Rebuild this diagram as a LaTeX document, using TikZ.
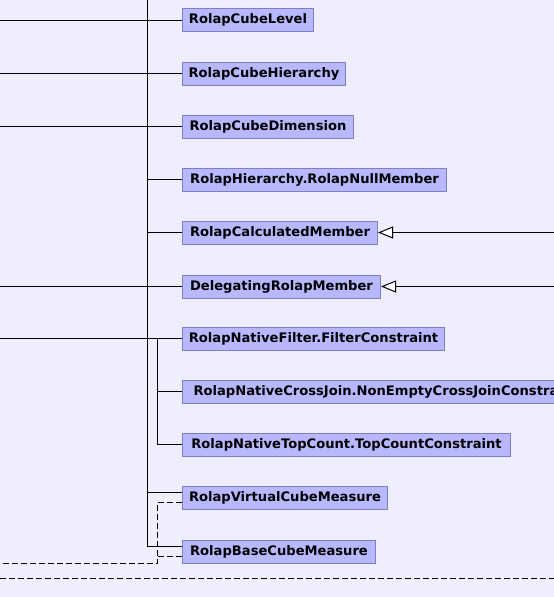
\documentclass[tikz,border=0pt]{standalone}
\usepackage{fontspec}
\setmainfont{DejaVu Sans}
\usetikzlibrary{arrows.meta}
\definecolor{bg}{HTML}{EEEEFF}
\definecolor{boxfill}{HTML}{B8B8FF}
\definecolor{boxdraw}{HTML}{7F7FC0}
\tikzset{
  cls/.style={draw=boxdraw, fill=boxfill, line width=1pt, anchor=west,
    minimum height=23pt, inner xsep=0pt, inner ysep=0pt,
    font=\fontsize{13.1}{14}\selectfont\bfseries, text=black},
  conn/.style={line width=1pt, draw=black},
  dconn/.style={line width=1pt, draw=black, dash pattern=on 6pt off 3pt},
  inh/.style={conn, -{Triangle[fill=white, length=15pt, width=12pt]}}
}
\begin{document}
\begin{tikzpicture}[x=1pt,y=-1pt]
\useasboundingbox (0,0) rectangle (554,597);
\fill[bg] (0,0) rectangle (554,597);
\clip (0,0) rectangle (554,597);

\node[cls, minimum width=131pt] (n1) at (182,20) {RolapCubeLevel};
\node[cls, minimum width=163pt] (n2) at (182,73.5) {RolapCubeHierarchy};
\node[cls, minimum width=171pt] (n3) at (182,126.5) {RolapCubeDimension};
\node[cls, minimum width=264pt] (n4) at (182,179.5) {RolapHierarchy.RolapNullMember};
\node[cls, minimum width=195pt] (n5) at (182,232.5) {RolapCalculatedMember};
\node[cls, minimum width=198pt] (n6) at (182,286.5) {DelegatingRolapMember};
\node[cls, minimum width=262pt] (n7) at (182,338.5) {RolapNativeFilter.FilterConstraint};
\node[cls, inner xsep=11pt] (n8) at (182,391.5) {RolapNativeCrossJoin.NonEmptyCrossJoinConstraint};
\node[cls, minimum width=328pt] (n9) at (182,444.5) {RolapNativeTopCount.TopCountConstraint};
\node[cls, minimum width=205pt] (n10) at (182,497.5) {RolapVirtualCubeMeasure};
\node[cls, minimum width=193pt] (n11) at (182,551.5) {RolapBaseCubeMeasure};

% trunk
\coordinate (t0) at (147,0);
\coordinate (s0) at (157,0);
\draw[conn] (t0) -- ([yshift=5pt]n11.west -| t0);

% lines from the left edge
\coordinate (l1) at (0,20);
\coordinate (l2) at (0,73.5);
\coordinate (l3) at (0,126.5);
\coordinate (l6) at (0,286.5);
\coordinate (l7) at (0,338.5);
\draw[conn] (l1) -- (n1.west);
\draw[conn] (l2) -- (n2.west);
\draw[conn] (l3) -- (n3.west);
\draw[conn] (l6) -- (n6.west);
\draw[conn] (l7) -- (n7.west);

% branches from trunk
\draw[conn] (n4.west -| t0) -- (n4.west);
\draw[conn] (n5.west -| t0) -- (n5.west);
\draw[conn] ([yshift=5pt]n10.west -| t0) -- ([yshift=5pt]n10.west);
\draw[conn] ([yshift=5pt]n11.west -| t0) -- ([yshift=5pt]n11.west);

% second trunk
\draw[conn] (n7.west -| s0) |- (n9.west);
\draw[conn] (n8.west -| s0) -- (n8.west);

% inheritance arrows from the right
\coordinate (r5) at (554,232.5);
\coordinate (r6) at (554,286.5);
\draw[inh] (r5) -- (n5.east);
\draw[inh] (r6) -- (n6.east);

% dashed connectors
\coordinate (d0) at (0,563);
\coordinate (dc) at (157,563);
\draw[dconn] ([yshift=-5pt]n10.west) -| (dc) -- (d0);
\draw[dconn] ([yshift=-5pt]n11.west) -- ([yshift=-5pt]n11.west -| dc);
\coordinate (b0) at (0,578);
\coordinate (b1) at (554,578);
\draw[dconn] (b0) -- (b1);
\end{tikzpicture}
\end{document}
